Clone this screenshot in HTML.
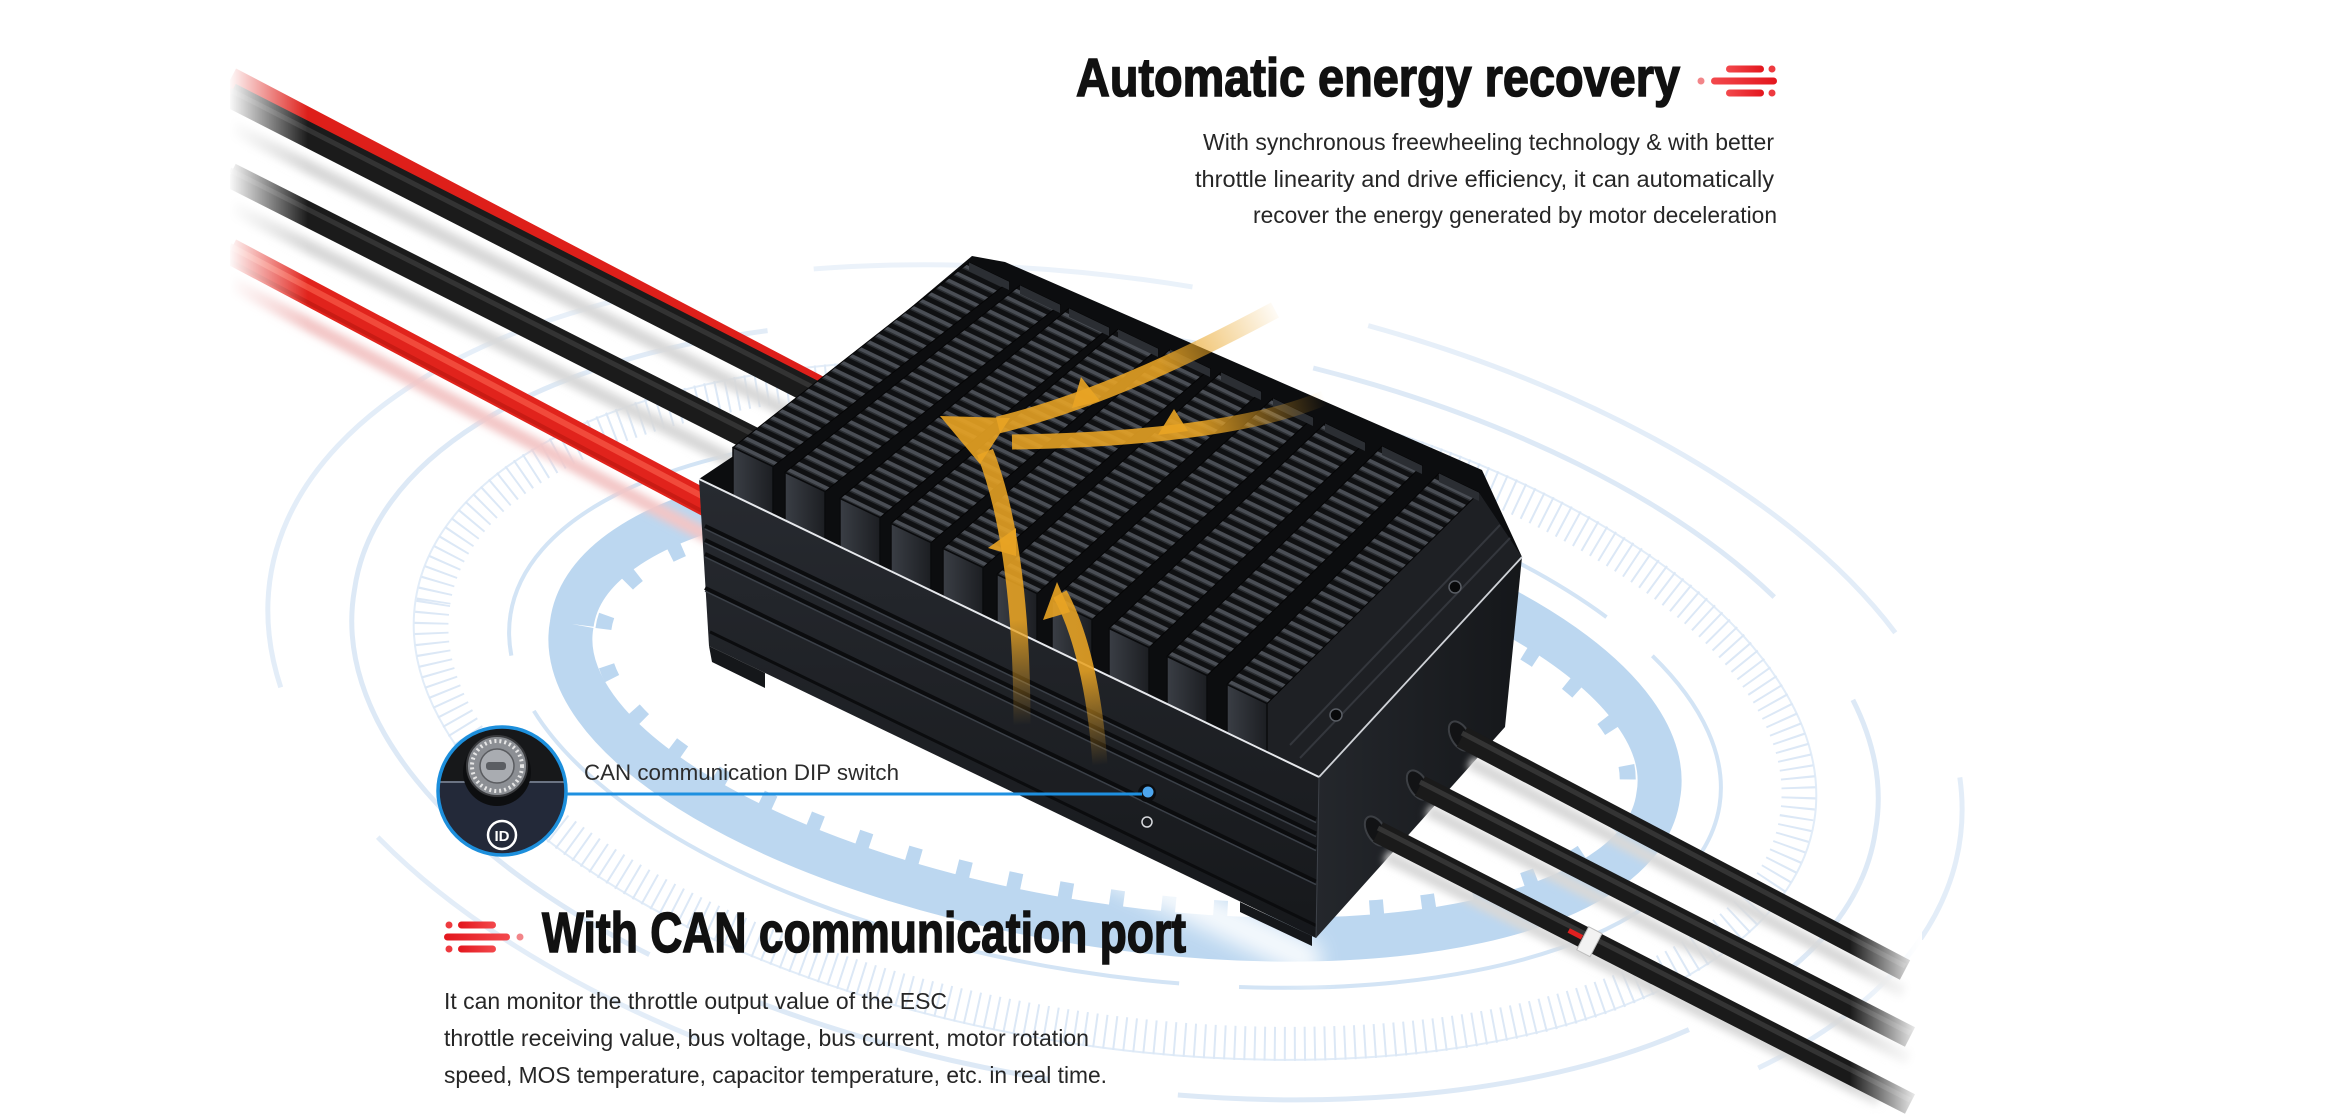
<!DOCTYPE html>
<html><head><meta charset="utf-8">
<style>
html,body{margin:0;padding:0;background:#fff;width:2330px;height:1114px;overflow:hidden;}
svg{display:block;}
</style></head>
<body>
<svg width="2330" height="1114" viewBox="0 0 2330 1114" xmlns="http://www.w3.org/2000/svg" style="overflow:hidden">
<defs>
  <pattern id="fin" patternUnits="userSpaceOnUse" width="400" height="10" patternTransform="rotate(25.67)">
    <rect width="400" height="10" fill="#0f1012"/>
    <rect y="0" width="400" height="3.5" fill="#4a4e55"/>
    <rect y="3.5" width="400" height="1.5" fill="#2a2d31"/>
  </pattern>
  <linearGradient id="frontG" x1="0" y1="0" x2="0" y2="1">
    <stop offset="0" stop-color="#272a30"/><stop offset="1" stop-color="#16181b"/>
  </linearGradient>
  <linearGradient id="rightG" x1="0" y1="0" x2="1" y2="0">
    <stop offset="0" stop-color="#24272c"/><stop offset="1" stop-color="#15171a"/>
  </linearGradient>
  <linearGradient id="tabG" x1="0" y1="0" x2="1" y2="0">
    <stop offset="0" stop-color="#3a3e45"/><stop offset="1" stop-color="#1c1e22"/>
  </linearGradient>
  <linearGradient id="fadeL" x1="0" y1="0" x2="1" y2="0">
    <stop offset="0" stop-color="#fff" stop-opacity="1"/><stop offset="1" stop-color="#fff" stop-opacity="0"/>
  </linearGradient>
  <linearGradient id="fadeR" x1="0" y1="0" x2="1" y2="0">
    <stop offset="0" stop-color="#fff" stop-opacity="0"/><stop offset="1" stop-color="#fff" stop-opacity="1"/>
  </linearGradient>
  <linearGradient id="fadeTop" x1="0" y1="0" x2="0" y2="1">
    <stop offset="0" stop-color="#fff" stop-opacity="0.9"/><stop offset="1" stop-color="#fff" stop-opacity="0"/>
  </linearGradient>
  <linearGradient id="barR" x1="0" y1="0" x2="1" y2="0">
    <stop offset="0" stop-color="#e3161d"/><stop offset="1" stop-color="#f3494d"/>
  </linearGradient>
  <linearGradient id="barL" x1="1" y1="0" x2="0" y2="0">
    <stop offset="0" stop-color="#e3161d"/><stop offset="1" stop-color="#f3494d"/>
  </linearGradient>
  <linearGradient id="gP1" gradientUnits="userSpaceOnUse" x1="1280" y1="305" x2="1160" y2="365">
    <stop offset="0" stop-color="#e9a424" stop-opacity="0"/><stop offset="1" stop-color="#e9a424" stop-opacity="0.88"/>
  </linearGradient>
  <linearGradient id="gP2" gradientUnits="userSpaceOnUse" x1="1325" y1="398" x2="1200" y2="430">
    <stop offset="0" stop-color="#e9a424" stop-opacity="0"/><stop offset="1" stop-color="#e9a424" stop-opacity="0.88"/>
  </linearGradient>
  <linearGradient id="gP3" gradientUnits="userSpaceOnUse" x1="1022" y1="725" x2="1018" y2="620">
    <stop offset="0" stop-color="#e9a424" stop-opacity="0"/><stop offset="1" stop-color="#e9a424" stop-opacity="0.88"/>
  </linearGradient>
  <linearGradient id="gP4" gradientUnits="userSpaceOnUse" x1="1100" y1="765" x2="1090" y2="670">
    <stop offset="0" stop-color="#e9a424" stop-opacity="0"/><stop offset="1" stop-color="#e9a424" stop-opacity="0.88"/>
  </linearGradient>
  <filter id="blur4" x="-10%" y="-10%" width="120%" height="120%"><feGaussianBlur stdDeviation="4"/></filter>
  <filter id="blur10" x="-20%" y="-20%" width="140%" height="140%"><feGaussianBlur stdDeviation="10"/></filter>
  <clipPath id="cc"><circle cx="502" cy="791" r="64"/></clipPath>
  <clipPath id="frame"><rect width="2330" height="1114"/></clipPath>
</defs>

<rect width="2330" height="1114" fill="#fff"/>
<g clip-path="url(#frame)">

<!-- background rings (rotated ellipses as paths) -->
<g fill="none">
  <path d="M697.2,1038.4 A855,430 9 1 1 1718.7,1085.4" stroke="#e3edf8" stroke-width="5" stroke-dasharray="380 180 620 160"/>
  <path d="M354.5,589.6 A770,372 9 1 1 1875.5,830.4 A770,372 9 1 1 354.5,589.6" stroke="#dde9f6" stroke-width="5" stroke-dasharray="520 130 300 120"/>
  <path d="M415.7,599.3 A708,336 9 1 1 1814.3,820.7 A708,336 9 1 1 415.7,599.3" stroke="#e1ecf8" stroke-width="2"/>
  <path d="M433.5,602.1 A690,318 9 1 1 1796.5,817.9 A690,318 9 1 1 433.5,602.1" stroke="#dce8f6" stroke-width="34" stroke-dasharray="2 8"/>
  <path d="M510.5,614.3 A612,264 9 1 1 1719.5,805.7 A612,264 9 1 1 510.5,614.3" stroke="#d3e4f5" stroke-width="4" stroke-dasharray="420 60 220 80"/>
  <path d="M571.8,624 A550,213 9 1 1 1658.2,796 A550,213 9 1 1 571.8,624" stroke="#bcd7f0" stroke-width="44"/>
  <path d="M603.4,629 A518,184 9 1 1 1626.6,791 A518,184 9 1 1 603.4,629" stroke="#bcd7f0" stroke-width="16" stroke-dasharray="14 38"/>
</g>
<rect x="0" y="0" width="2330" height="400" fill="url(#fadeTop)"/>
<!-- halo under box -->
<polygon points="700,655 1320,945 1320,985 700,690" fill="#fff" opacity="0.85" filter="url(#blur10)"/>

<!-- left cable shadows -->
<g filter="url(#blur4)" stroke-linecap="butt">
  <line x1="230" y1="127" x2="830" y2="433" stroke="#d8d8d8" stroke-width="14"/>
  <line x1="230" y1="207" x2="780" y2="485" stroke="#d8d8d8" stroke-width="14"/>
  <line x1="230" y1="283" x2="715" y2="540" stroke="#f3c6c6" stroke-width="14"/>
</g>
<!-- left cables -->
<line x1="230" y1="80" x2="840" y2="400" stroke="#de1f1a" stroke-width="26"/>
<line x1="230" y1="95" x2="830" y2="401" stroke="#1b1b1b" stroke-width="25"/>
<line x1="230" y1="90" x2="830" y2="396" stroke="#3a3a3a" stroke-width="5" opacity="0.8"/>
<line x1="230" y1="175" x2="780" y2="453" stroke="#1b1b1b" stroke-width="25"/>
<line x1="230" y1="170" x2="780" y2="448" stroke="#3a3a3a" stroke-width="5" opacity="0.8"/>
<line x1="230" y1="251" x2="715" y2="508" stroke="#e1231c" stroke-width="26"/>
<line x1="230" y1="246" x2="715" y2="503" stroke="#f55443" stroke-width="6" opacity="0.8"/>
<line x1="230" y1="261" x2="715" y2="518" stroke="#b8160f" stroke-width="4" opacity="0.6"/>
<rect x="200" y="40" width="30" height="300" fill="#fff"/>
<rect x="228" y="40" width="80" height="300" fill="url(#fadeL)"/>

<!-- box: right face -->
<polygon points="1319,777 1522,557 1505,727 1316,938" fill="url(#rightG)"/>
<!-- front face -->
<polygon points="699,479 1319,777 1316,938 709,646" fill="url(#frontG)"/>
<polygon points="709,646 765,673 765,688 712,662" fill="#15171a"/>
<polygon points="1240,902 1312,936 1312,946 1240,912" fill="#15171a"/>
<g stroke-linecap="butt">
  <line x1="705" y1="525.9" x2="1316" y2="819.5" stroke="#0b0c0e" stroke-width="4"/>
  <line x1="705" y1="529" x2="1316" y2="822.6" stroke="#3b4048" stroke-width="1.5"/>
  <line x1="705" y1="539.9" x2="1316" y2="833.5" stroke="#0b0c0e" stroke-width="4"/>
  <line x1="705" y1="543" x2="1316" y2="836.6" stroke="#3b4048" stroke-width="1.5"/>
  <line x1="705" y1="553.9" x2="1316" y2="847.5" stroke="#0b0c0e" stroke-width="4"/>
  <line x1="705" y1="557" x2="1316" y2="850.6" stroke="#3b4048" stroke-width="1.5"/>
  <line x1="705" y1="587.9" x2="1316" y2="881.5" stroke="#0b0c0e" stroke-width="4"/>
  <line x1="705" y1="591" x2="1316" y2="884.6" stroke="#3b4048" stroke-width="1.5"/>
  <line x1="710" y1="631.9" x2="1316" y2="925.5" stroke="#0b0c0e" stroke-width="3"/>
</g>
<!-- top base -->
<polygon points="699,479 735,455 972,256 1005,262 1482,470 1522,557 1319,777" fill="#0c0d0f"/>
<!-- flange -->
<polygon points="1267,703.6 1479,492.6 1522,557 1319,777 1267,752" fill="#1e2024"/>
<g stroke="#34373d" stroke-width="2">
  <line x1="1290" y1="745" x2="1500" y2="525"/>
  <line x1="1300" y1="758" x2="1510" y2="538"/>
</g>
<circle cx="1455" cy="587" r="6" fill="#08090a" stroke="#5a5e65" stroke-width="1.5"/>
<circle cx="1336" cy="715" r="6" fill="#08090a" stroke="#5a5e65" stroke-width="1.5"/>
<!-- fin rows -->
<g fill="url(#fin)" stroke="#050506" stroke-width="1">
  <polygon points="733,447.4 773,466.6 1009,281.6 969,262.4"/>
  <polygon points="785,472.4 825,491.6 1060,304.6 1020,285.4"/>
  <polygon points="840,498.4 880,517.6 1109,327.6 1069,308.4"/>
  <polygon points="891,523.4 931,542.6 1158,348.6 1118,329.4"/>
  <polygon points="943,548.4 983,567.6 1210,368.6 1170,349.4"/>
  <polygon points="997,574.4 1037,593.6 1261,391.6 1221,372.4"/>
  <polygon points="1052,600.4 1092,619.6 1313,417.6 1273,398.4"/>
  <polygon points="1109,628.4 1149,647.6 1365,442.6 1325,423.4"/>
  <polygon points="1167,656.4 1207,675.6 1422,465.6 1382,446.4"/>
  <polygon points="1227,684.4 1267,703.6 1479,492.6 1439,473.4"/>
</g>
<!-- back caps -->
<g fill="#2b2e33">
  <polygon points="969,262.4 1009,281.6 1009,290 969,271"/>
  <polygon points="1020,285.4 1060,304.6 1060,313 1020,294"/>
  <polygon points="1069,308.4 1109,327.6 1109,336 1069,317"/>
  <polygon points="1118,329.4 1158,348.6 1158,357 1118,338"/>
  <polygon points="1170,349.4 1210,368.6 1210,377 1170,358"/>
  <polygon points="1221,372.4 1261,391.6 1261,400 1221,381"/>
  <polygon points="1273,398.4 1313,417.6 1313,426 1273,407"/>
  <polygon points="1325,423.4 1365,442.6 1365,451 1325,432"/>
  <polygon points="1382,446.4 1422,465.6 1422,474 1382,455"/>
  <polygon points="1439,473.4 1479,492.6 1479,501 1439,482"/>
</g>
<!-- front tabs -->
<g fill="url(#tabG)" stroke="#0a0b0d" stroke-width="1.5" stroke-linejoin="round">
  <polygon points="733,447.4 773,466.6 773,514.6 733,495.4"/>
  <polygon points="785,472.4 825,491.6 825,539.6 785,520.4"/>
  <polygon points="840,498.4 880,517.6 880,565.6 840,546.4"/>
  <polygon points="891,523.4 931,542.6 931,590.6 891,571.4"/>
  <polygon points="943,548.4 983,567.6 983,615.6 943,596.4"/>
  <polygon points="997,574.4 1037,593.6 1037,641.6 997,622.4"/>
  <polygon points="1052,600.4 1092,619.6 1092,667.6 1052,648.4"/>
  <polygon points="1109,628.4 1149,647.6 1149,695.6 1109,676.4"/>
  <polygon points="1167,656.4 1207,675.6 1207,723.6 1167,704.4"/>
  <polygon points="1227,684.4 1267,703.6 1267,751.6 1227,732.4"/>
</g>
<!-- edge highlights -->
<line x1="699" y1="479" x2="1319" y2="777" stroke="#e6e8ec" stroke-width="2"/>
<line x1="1319" y1="777" x2="1522" y2="557" stroke="#cfd2d7" stroke-width="1.8"/>
<line x1="1319" y1="778" x2="1316" y2="938" stroke="#3e4249" stroke-width="1"/>
<!-- DIP dot on device -->
<circle cx="1147" cy="793" r="9" fill="#0b0c0e"/>
<circle cx="1148" cy="792" r="5.5" fill="#4da6ee"/>
<circle cx="1147" cy="822" r="5" fill="none" stroke="#d8dade" stroke-width="1.5"/>

<!-- right cable shadows -->
<g filter="url(#blur4)">
  <line x1="1470" y1="762" x2="1905" y2="992" stroke="#d8d8d8" stroke-width="13"/>
  <line x1="1428" y1="810" x2="1910" y2="1059" stroke="#d8d8d8" stroke-width="13"/>
  <line x1="1386" y1="856" x2="1880" y2="1100" stroke="#d8d8d8" stroke-width="13"/>
</g>
<!-- grommets -->
<g fill="#121315" stroke="#3c3f44" stroke-width="2">
  <ellipse cx="1460" cy="736" rx="9" ry="16" transform="rotate(-30 1460 736)"/>
  <ellipse cx="1418" cy="785" rx="9" ry="16" transform="rotate(-30 1418 785)"/>
  <ellipse cx="1376" cy="831" rx="9" ry="16" transform="rotate(-30 1376 831)"/>
</g>
<!-- right cables -->
<line x1="1462" y1="737" x2="1905" y2="970" stroke="#1a1a1a" stroke-width="22"/>
<line x1="1462" y1="733" x2="1905" y2="966" stroke="#3b3b3b" stroke-width="5" opacity="0.8"/>
<line x1="1420" y1="786" x2="1910" y2="1037" stroke="#1a1a1a" stroke-width="22"/>
<line x1="1420" y1="782" x2="1910" y2="1033" stroke="#3b3b3b" stroke-width="5" opacity="0.8"/>
<line x1="1378" y1="832" x2="1910" y2="1104" stroke="#1a1a1a" stroke-width="22"/>
<line x1="1378" y1="828" x2="1910" y2="1100" stroke="#3b3b3b" stroke-width="5" opacity="0.8"/>
<g transform="translate(1588 941) rotate(27.4)">
  <rect x="-22" y="-3" width="15" height="5" fill="#e02020"/>
  <rect x="-6" y="-13" width="15" height="26" fill="#f2f2f2" stroke="#bdbdbd" stroke-width="1"/>
</g>
<rect x="1850" y="880" width="72" height="234" fill="url(#fadeR)"/>
<rect x="1921" y="940" width="40" height="174" fill="#fff"/>

<!-- heat arrows -->
<g fill="none" stroke-linecap="butt">
  <path d="M1275,310 C1200,350 1100,400 998,425" stroke="url(#gP1)" stroke-width="17"/>
  <path d="M1324,398 C1260,425 1150,440 1012,442" stroke="url(#gP2)" stroke-width="15"/>
  <path d="M1022,725 C1022,620 1012,520 985,452" stroke="url(#gP3)" stroke-width="17"/>
  <path d="M1100,765 C1095,690 1080,630 1060,594" stroke="url(#gP4)" stroke-width="15"/>
</g>
<g fill="#e9a424" opacity="0.9">
  <polygon points="940,416 1010,418 980,464"/>
  <polygon points="1081,377 1072,408 1100,401"/>
  <polygon points="1174,409 1158,435 1188,431"/>
  <polygon points="988,548 1016,528 1016,556"/>
  <polygon points="1057,582 1043,620 1070,612"/>
</g>

<!-- DIP callout -->
<line x1="565" y1="794" x2="1142" y2="794" stroke="#1e90e0" stroke-width="3"/>
<g clip-path="url(#cc)">
  <rect x="436" y="725" width="132" height="58" fill="#17181a"/>
  <rect x="436" y="782" width="132" height="76" fill="#232939"/>
  <line x1="436" y1="782" x2="568" y2="782" stroke="#6b7383" stroke-width="2"/>
  <circle cx="497" cy="772" r="34" fill="#0d0e10"/>
  <circle cx="497" cy="766" r="30" fill="#8c8f94" stroke="#3a3b3e" stroke-width="2"/>
  <circle cx="497" cy="766" r="25" fill="none" stroke="#e6e6e6" stroke-width="4" stroke-dasharray="2 3"/>
  <circle cx="497" cy="766" r="17" fill="#a9acb1" stroke="#5a5c60" stroke-width="1.5"/>
  <rect x="486" y="762" width="20" height="8" rx="3" fill="#5b5e63"/>
</g>
<circle cx="502" cy="791" r="64" fill="none" stroke="#1d8fdc" stroke-width="3.5"/>
<circle cx="502" cy="835" r="14" fill="none" stroke="#ffffff" stroke-width="2.5"/>
<text x="502" y="841" font-family="'Liberation Sans',sans-serif" font-size="15" font-weight="700" fill="#fff" text-anchor="middle">ID</text>
<text x="584" y="780" font-family="'Liberation Sans',sans-serif" font-size="22" fill="#2b2b2b" textLength="315" lengthAdjust="spacingAndGlyphs">CAN communication DIP switch</text>

<!-- top title -->
<text x="1076" y="96" font-family="'Liberation Sans Narrow','Liberation Sans',sans-serif" font-size="54" font-weight="700" fill="#111" stroke="#111" stroke-width="1.5" textLength="604" lengthAdjust="spacingAndGlyphs">Automatic energy recovery</text>
<g>
  <circle cx="1772" cy="69" r="3.5" fill="#ee3a3f"/>
  <rect x="1726" y="65.5" width="38" height="7" rx="3.5" fill="url(#barL)"/>
  <circle cx="1701" cy="81" r="3.5" fill="#f28589"/>
  <rect x="1711" y="77.5" width="66" height="7" rx="3.5" fill="url(#barL)"/>
  <circle cx="1772" cy="93" r="3.5" fill="#ee3a3f"/>
  <rect x="1726" y="89.5" width="38" height="7" rx="3.5" fill="url(#barL)"/>
</g>
<g font-family="'Liberation Sans',sans-serif" font-size="23" fill="#262626" text-anchor="end">
  <text x="1774" y="150" textLength="571" lengthAdjust="spacingAndGlyphs">With synchronous freewheeling technology &amp; with better</text>
  <text x="1774" y="187" textLength="579" lengthAdjust="spacingAndGlyphs">throttle linearity and drive efficiency, it can automatically</text>
  <text x="1777" y="223" textLength="524" lengthAdjust="spacingAndGlyphs">recover the energy generated by motor deceleration</text>
</g>

<!-- bottom title -->
<g>
  <circle cx="449" cy="925" r="3.5" fill="#ee3a3f"/>
  <rect x="458" y="921.5" width="38" height="7" rx="3.5" fill="url(#barR)"/>
  <rect x="444" y="933.5" width="66" height="7" rx="3.5" fill="url(#barR)"/>
  <circle cx="520" cy="937" r="3.5" fill="#f28589"/>
  <circle cx="449" cy="949" r="3.5" fill="#ee3a3f"/>
  <rect x="458" y="945.5" width="38" height="7" rx="3.5" fill="url(#barR)"/>
</g>
<text x="542" y="952" font-family="'Liberation Sans Narrow','Liberation Sans',sans-serif" font-size="57" font-weight="700" fill="#111" stroke="#111" stroke-width="1.5" textLength="644" lengthAdjust="spacingAndGlyphs">With CAN communication port</text>
<g font-family="'Liberation Sans',sans-serif" font-size="23" fill="#262626">
  <text x="444" y="1009" textLength="503" lengthAdjust="spacingAndGlyphs">It can monitor the throttle output value of the ESC</text>
  <text x="444" y="1046" textLength="645" lengthAdjust="spacingAndGlyphs">throttle receiving value, bus voltage, bus current, motor rotation</text>
  <text x="444" y="1083" textLength="663" lengthAdjust="spacingAndGlyphs">speed, MOS temperature, capacitor temperature, etc. in real time.</text>
</g>
</g>
</svg>
</body></html>
